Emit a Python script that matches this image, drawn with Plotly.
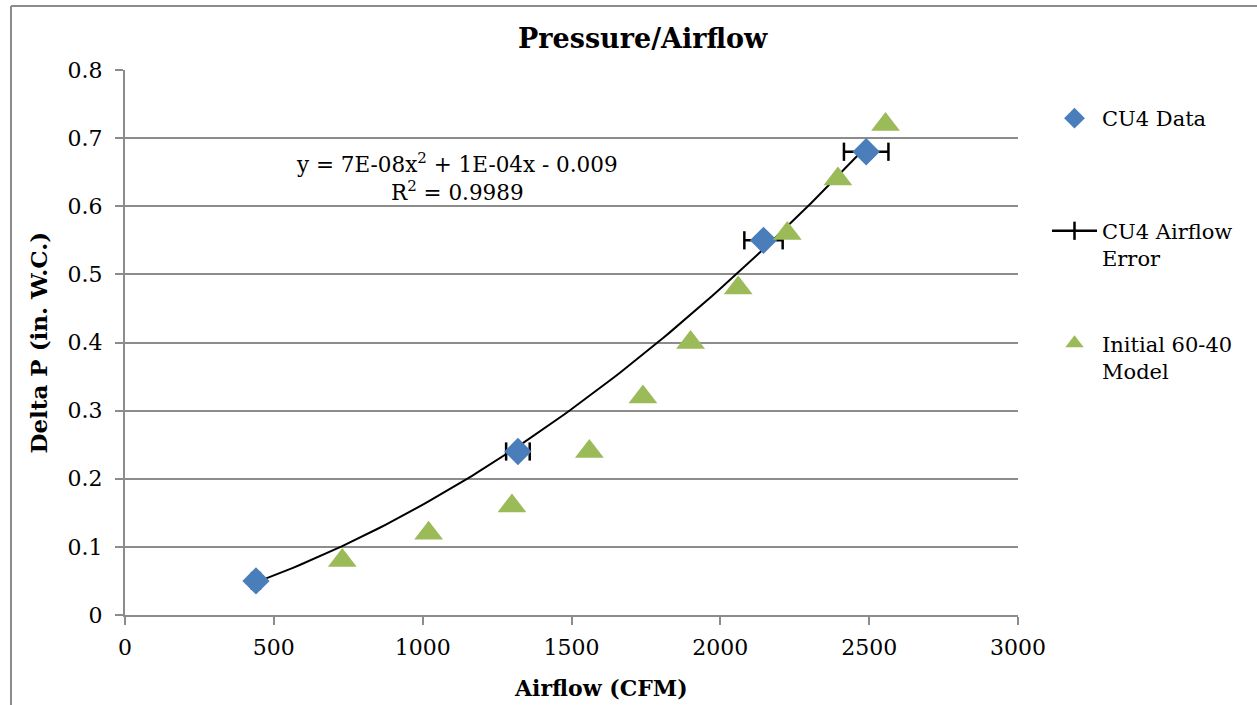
import numpy as np
import plotly.graph_objects as go

# CU4 measured data
cu4_x = [440, 1320, 2145, 2490]
cu4_y = [0.05, 0.24, 0.55, 0.68]
err_frac = 0.03  # airflow error fraction

# Initial 60-40 model
model_x = [730, 1020, 1300, 1560, 1740, 1900, 2060, 2225, 2395, 2555]
model_y = [0.08, 0.12, 0.16, 0.24, 0.32, 0.40, 0.48, 0.56, 0.64, 0.72]

FONT = "DejaVu Serif"

fig = go.Figure()

# polynomial trend line
c = np.polyfit(cu4_x, cu4_y, 2)
tx = np.linspace(min(cu4_x), max(cu4_x), 100)
fig.add_trace(go.Scatter(x=tx, y=np.polyval(c, tx), mode="lines", showlegend=False,
                         line=dict(color="black", width=2), hoverinfo="skip"))

# error bars as horizontal segments with end ticks
ex, ey = [], []
for x, y in zip(cu4_x, cu4_y):
    ex += [x * (1 - err_frac), x * (1 + err_frac), None]
    ey += [y, y, None]

fig.add_trace(go.Scatter(x=cu4_x, y=cu4_y, mode="markers", name="CU4 Data<br> ",
                         marker=dict(symbol="diamond", size=21, color="#4A7EBB"),
                         legendgroup="a", legendrank=1))
fig.add_trace(go.Scatter(x=ex, y=ey, mode="lines+markers", name="CU4 Airflow<br>Error",
                         line=dict(color="black", width=2.5),
                         marker=dict(symbol="line-ns", size=13, line=dict(color="black", width=2.5)),
                         legendgroup="b", legendrank=2))
fig.add_trace(go.Scatter(x=model_x, y=model_y, mode="markers", name="Initial 60-40<br>Model",
                         marker=dict(symbol="triangle-up", size=25, color="#9BBB59"),
                         legendgroup="c", legendrank=3))

# draw order: trend, error, diamonds, triangles
fig.data = (fig.data[0], fig.data[2], fig.data[1], fig.data[3])

grid = "#8C8C8C"
fig.update_layout(
    width=1257, height=705,
    margin=dict(l=125, r=239, t=70, b=90),
    paper_bgcolor="white", plot_bgcolor="white",
    font=dict(family=FONT, size=22, color="black"),
    showlegend=True,
    legend=dict(x=(1047 - 125) / 893, xanchor="left", y=(615 - 98) / 545, yanchor="top",
                tracegroupgap=55, valign="top",
                font=dict(family=FONT, size=21), itemwidth=45, traceorder="grouped"),
    xaxis=dict(range=[0, 3000], dtick=500, showgrid=False, showline=True, linecolor=grid,
               linewidth=2, ticks="outside", ticklen=8, tickcolor=grid, tickwidth=2,
               zeroline=False, tickfont=dict(size=22), ticklabelstandoff=4),
    yaxis=dict(range=[0, 0.8], dtick=0.1, tickformat=".1~f", showgrid=True, gridcolor=grid,
               gridwidth=1.5, showline=True, linecolor=grid, linewidth=2, ticks="outside",
               ticklen=8, tickcolor=grid, tickwidth=2, zeroline=False, tickfont=dict(size=22),
               ticklabelstandoff=8),
    annotations=[
        dict(text="<b>Pressure/Airflow</b>", x=(643 - 125) / 893, xref="paper",
             y=(615 - 38) / 545, yref="paper", xanchor="center", yanchor="middle",
             showarrow=False, font=dict(size=27)),
        dict(text="y = 7E-08x<sup>2</sup> + 1E-04x - 0.009<br>R<sup>2</sup> = 0.9989",
             x=(457 - 125) / 893, xref="paper", y=(615 - 177) / 545, yref="paper",
             xanchor="center", yanchor="middle", showarrow=False, font=dict(size=21.5)),
        dict(text="<b>Airflow (CFM)</b>", x=(601 - 125) / 893, xref="paper", y=(615 - 688) / 545,
             yref="paper", xanchor="center", yanchor="middle", showarrow=False,
             font=dict(size=22)),
        dict(text="<b>Delta P (in. W.C.)</b>", x=(38 - 125) / 893, xref="paper", y=0.5,
             yref="paper", xanchor="center", yanchor="middle", showarrow=False,
             textangle=-90, font=dict(size=23)),
    ],
    shapes=[
        dict(type="line", xref="paper", yref="paper", x0=(11 - 125) / 893, x1=(11 - 125) / 893,
             y0=(615 - 6) / 545, y1=(615 - 720) / 545, line=dict(color=grid, width=2)),
        dict(type="line", xref="paper", yref="paper", x0=(11 - 125) / 893, x1=(1280 - 125) / 893,
             y0=(615 - 6) / 545, y1=(615 - 6) / 545, line=dict(color=grid, width=2)),
    ],
)

fig.write_html("out.html")
